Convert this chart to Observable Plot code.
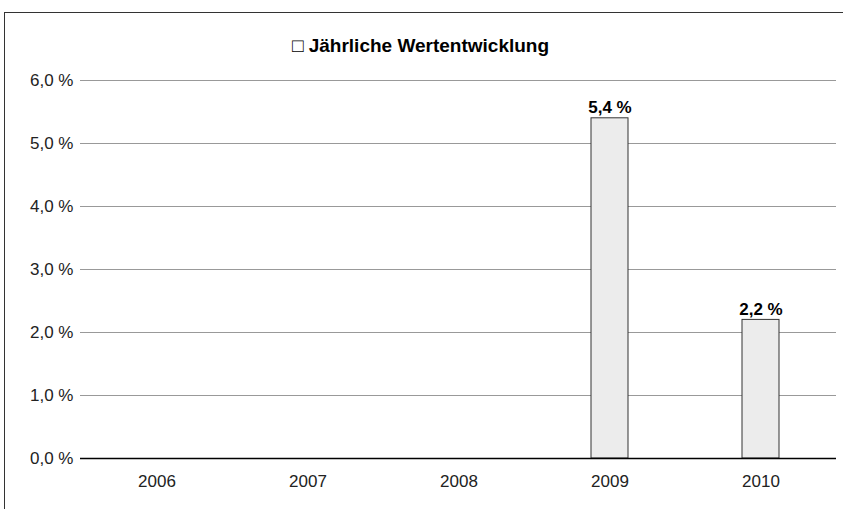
<!DOCTYPE html>
<html>
<head>
<meta charset="utf-8">
<script src="https://cdn.jsdelivr.net/npm/d3@7"></script>
<script src="https://cdn.jsdelivr.net/npm/@observablehq/plot@0.6"></script>
<style>
  html, body { margin: 0; padding: 0; background: #fff; }
  #wrap { position: relative; width: 843px; height: 509px; overflow: hidden; }
  #border { position: absolute; left: 4px; top: 12px; width: 860px; height: 520px;
            border-left: 1px solid #333; border-top: 1px solid #333; box-sizing: border-box; }
  #chart { position: absolute; left: 0; top: 0; }
</style>
</head>
<body>
<div id="wrap"><div id="border"></div><div id="chart"></div></div>
<script>
const title = "\u25A1 Jährliche Wertentwicklung";
const years = ["2006", "2007", "2008", "2009", "2010"];
const values = [null, null, null, 5.4, 2.2];
const yTicks = [0, 1, 2, 3, 4, 5, 6];

const data = years.map((y, i) => ({year: y, value: values[i]}));
const fmt = d => d.toFixed(1).replace(".", ",") + " %";

const chart = Plot.plot({
  width: 843,
  height: 509,
  marginLeft: 80,
  marginRight: 7,
  marginTop: 80,
  marginBottom: 51,
  style: {fontFamily: "'Liberation Sans', Arial, sans-serif", fontSize: "17px", color: "#222", background: "transparent"},
  x: {domain: years, paddingInner: 0.755, paddingOuter: 0.3775, align: 0.5, label: null, tickSize: 0, tickPadding: 16},
  y: {domain: [0, 6], ticks: yTicks, tickFormat: fmt, label: null, tickSize: 0, tickPadding: 7},
  marks: [
    Plot.axisX({tickSize: 0, tickPadding: 16, fontSize: 17, label: null}),
    Plot.axisY({ticks: yTicks, tickFormat: fmt, tickSize: 0, tickPadding: 7, fontSize: 17, label: null}),
    Plot.ruleY(yTicks.filter(t => t > 0), {stroke: "#999", strokeWidth: 1}),
    Plot.barY(data.filter(d => d.value != null), {x: "year", y: "value", fill: "#ececec", stroke: "#333", strokeWidth: 1}),
    Plot.ruleY([0], {stroke: "#000", strokeWidth: 1.5}),
    Plot.text(data.filter(d => d.value != null), {x: "year", y: "value", text: d => fmt(d.value), lineAnchor: "bottom", dy: -5, fontWeight: "bold", fontSize: 17, fill: "#000"}),
    Plot.text([title], {frameAnchor: "top", dx: -38, dy: -42, fontWeight: "bold", fontSize: 19, fill: "#000"})
  ]
});
document.getElementById("chart").appendChild(chart);
</script>
</body>
</html>
